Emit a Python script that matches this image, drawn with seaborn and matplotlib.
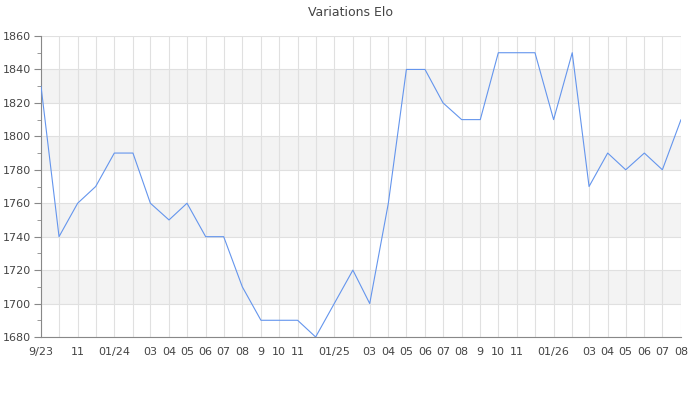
import pandas as pd
import numpy as np
import matplotlib
matplotlib.use('Agg')
import matplotlib.pyplot as plt
import matplotlib.dates as mdates
from matplotlib.ticker import MultipleLocator, FixedLocator, FixedFormatter
import seaborn as sns

# Data: one Elo value per month, Sep 2023 -> Aug 2026
months = pd.date_range('2023-09-01', '2026-08-01', freq='MS')
elo = [1830, 1740, 1760, 1770, 1790, 1790, 1760, 1750, 1760, 1740, 1740, 1710,
       1690, 1690, 1690, 1680, 1700, 1720, 1700, 1760, 1840, 1840, 1820, 1810,
       1810, 1850, 1850, 1850, 1810, 1850, 1770, 1790, 1780, 1790, 1780, 1810]
tick_labels = ['9/23', '', '11', '', '01/24', '', '03', '04', '05', '06', '07', '08',
               '9', '10', '11', '', '01/25', '', '03', '04', '05', '06', '07', '08',
               '9', '10', '11', '', '01/26', '', '03', '04', '05', '06', '07', '08']

df = pd.DataFrame({'date': months, 'elo': elo})

sns.set_style('white')
plt.rcParams['font.family'] = ['DejaVu Sans']

fig = plt.figure(figsize=(7, 4), dpi=100)
ax = fig.add_axes([41/700, 63/400, 640/700, 301/400])

# alternating bands
for lo in range(1700, 1860, 40):
    ax.axhspan(lo, lo + 20, color='#f3f3f3', zorder=0, lw=0)

sns.lineplot(data=df, x='date', y='elo', ax=ax, color='#6495ed', linewidth=0.8, zorder=3)

ax.set_xlim(months[0], months[-1])
ax.set_ylim(1680, 1860)
ax.yaxis.set_major_locator(MultipleLocator(20))
ax.yaxis.set_minor_locator(MultipleLocator(10))

tick_pos = mdates.date2num(months)
ax.xaxis.set_major_locator(FixedLocator(tick_pos))
ax.xaxis.set_major_formatter(FixedFormatter(tick_labels))

ax.grid(True, which='major', color='#e0e0e0', linewidth=0.8, zorder=1)
ax.set_axisbelow(True)

for s in ['top', 'right']:
    ax.spines[s].set_visible(False)
for s in ['left', 'bottom']:
    ax.spines[s].set_color('#888888')
    ax.spines[s].set_linewidth(0.8)

ax.tick_params(axis='y', which='major', length=5, color='#888888', labelsize=8,
               labelcolor='#444444', pad=2, left=True)
ax.tick_params(axis='y', which='minor', length=3, color='#888888', left=True)
ax.tick_params(axis='x', length=0, labelsize=8, labelcolor='#444444', pad=7)

ax.set_xlabel('')
ax.set_ylabel('')
fig.suptitle('Variations Elo', y=0.985, fontsize=9, color='#444444')

fig.savefig('out.png', dpi=100)
